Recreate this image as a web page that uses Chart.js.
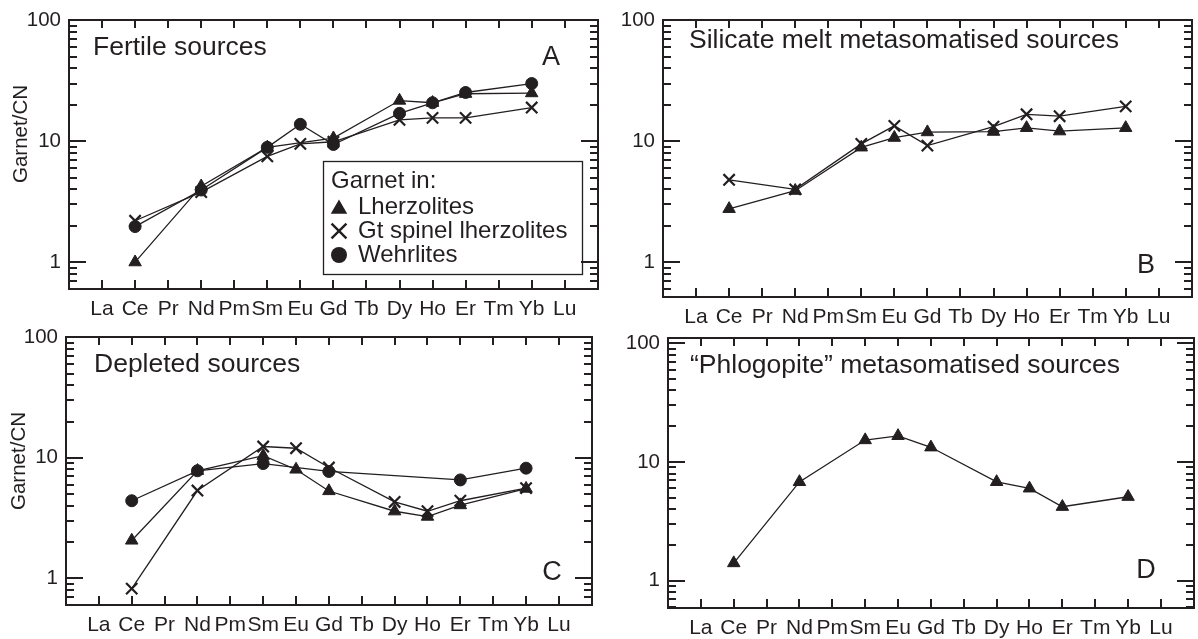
<!DOCTYPE html>
<html>
<head>
<meta charset="utf-8">
<script src="https://cdn.jsdelivr.net/npm/chart.js@4.4.0/dist/chart.umd.min.js"></script>
<style>
html, body { margin: 0; padding: 0; background: #fff; }
#wrap { position: relative; width: 1198px; height: 639px; overflow: hidden; }
#wrap canvas { position: absolute; }
</style>
</head>
<body>
<div id="wrap"></div>
<script>
/* ===== Datos ===== */
const elements = ['La','Ce','Pr','Nd','Pm','Sm','Eu','Gd','Tb','Dy','Ho','Er','Tm','Yb','Lu'];
const yTickVals = [1, 10, 100];

// A - Fertile sources
const lherzA  = [null, 1.0,  null, 4.25, null, 8.9,  null, 10.6, null, 21.7, 20.8, 24.7, null, 25.0, null];
const spinelA = [null, 2.2,  null, 3.8,  null, 7.5,  9.5,  9.9,  null, 15.0, 15.6, 15.6, null, 19.0, null];
const wehrA   = [null, 1.97, null, 3.95, null, 8.9,  13.8, 9.4,  null, 17.0, 20.8, 25.3, null, 30.0, null];

// B - Silicate melt metasomatised sources
const lherzB  = [null, 2.76, null, 3.9,  null, 8.9,  10.7, 11.9, null, 12.0, 12.9, 12.1, null, 12.9, null];
const spinelB = [null, 4.8,  null, 4.0,  null, 9.5,  13.4, 9.2,  null, 13.2, 16.7, 16.1, null, 19.4, null];

// C - Depleted sources
const lherzC  = [null, 2.06, null, 7.8,  null, 10.4, 8.0,  5.3,  null, 3.6,  3.25, 4.05, null, 5.55, null];
const spinelC = [null, 0.82, null, 5.35, null, 12.4, 12.0, 8.3,  null, 4.3,  3.6,  4.4,  null, 5.6,  null];
const wehrC   = [null, 4.4,  null, 7.8,  null, 8.95, null, 7.7,  null, null, null, 6.55, null, 8.2,  null];

// D - "Phlogopite" metasomatised sources
const lherzD  = [null, 1.41, null, 6.8,  null, 15.3, 16.6, 13.3, null, 6.8,  6.0,  4.2,  null, 5.1,  null];

/* ===== Estilo ===== */
const ink = '#231f20';
const FONT = "'Liberation Sans', Arial, Helvetica, sans-serif";
Chart.defaults.font.family = FONT;
Chart.defaults.color = ink;

const styles = {
  Lherzolites:             { pointStyle: 'triangle', pointRadius: 7.2, pointBorderWidth: 1, legendR: 9.5 },
  'Gt spinel lherzolites': { pointStyle: 'crossRot', pointRadius: 8,   pointBorderWidth: 2.2, legendR: 10.5 },
  Wehrlites:               { pointStyle: 'circle',   pointRadius: 6,   pointBorderWidth: 1, legendR: 8 }
};

const toPts = arr => arr.map((v, i) => v == null ? null : { x: i, y: v }).filter(Boolean);

function series(label, arr){
  const s = styles[label];
  return {
    label, data: toPts(arr),
    borderColor: ink, borderWidth: 1.3, tension: 0, fill: false,
    pointStyle: s.pointStyle, pointRadius: s.pointRadius, pointHoverRadius: s.pointRadius,
    pointBorderWidth: s.pointBorderWidth,
    pointBackgroundColor: ink, pointBorderColor: ink
  };
}

function drawMarker(ctx, style, x, y, r){
  ctx.save();
  ctx.fillStyle = ink; ctx.strokeStyle = ink;
  ctx.beginPath();
  if (style === 'triangle'){
    ctx.moveTo(x, y - r);
    ctx.lineTo(x + 0.866 * r, y + 0.5 * r);
    ctx.lineTo(x - 0.866 * r, y + 0.5 * r);
    ctx.closePath(); ctx.fill();
  } else if (style === 'circle'){
    ctx.arc(x, y, r, 0, Math.PI * 2); ctx.fill();
  } else {
    const d = r * 0.707;
    ctx.lineWidth = 2.4;
    ctx.moveTo(x - d, y - d); ctx.lineTo(x + d, y + d);
    ctx.moveTo(x + d, y - d); ctx.lineTo(x - d, y + d);
    ctx.stroke();
  }
  ctx.restore();
}

/* ===== Marco, ticks internos y textos ===== */
const panelDeco = {
  id: 'panelDeco',
  afterDraw(chart, args, o){
    const { ctx, chartArea: ca, scales } = chart;
    const ys = scales.y, xs = scales.x;
    const L = Math.round(ca.left), R = Math.round(ca.right);
    const T = Math.round(ca.top), B = Math.round(ca.bottom);
    const ox = o.ox, oy = o.oy;
    ctx.save();
    ctx.fillStyle = ink;
    // x ticks arriba y abajo
    for (let i = 0; i < elements.length; i++){
      const px = Math.round(xs.getPixelForValue(i));
      ctx.fillRect(px - 1, B - 9, 2, 9);
      ctx.fillRect(px - 1, T, 2, 8);
    }
    // y ticks (mayores y menores) a ambos lados
    [0.1, 1, 10, 100].forEach(dec => {
      for (let m = 1; m <= 9; m++){
        const v = m * dec;
        if (v < ys.min * 1.001 || v > ys.max * 1.001) continue;
        const py = Math.round(ys.getPixelForValue(v));
        const len = m === 1 ? 17 : 8;
        ctx.fillRect(L, py - 1, len, 2);
        ctx.fillRect(R - len, py - 1, len, 2);
      }
    });
    // marco
    ctx.fillRect(L - 1, T - 1, R - L + 2, 2);
    ctx.fillRect(L - 1, B - 1, R - L + 2, 2);
    ctx.fillRect(L - 1, T - 1, 2, B - T + 2);
    ctx.fillRect(R - 1, T - 1, 2, B - T + 2);

    ctx.textBaseline = 'alphabetic';
    // titulo del panel
    ctx.font = `26.5px ${FONT}`;
    ctx.textAlign = 'left';
    ctx.fillText(o.title.text, o.title.x - ox, o.title.y - oy);
    // letra
    ctx.font = `27px ${FONT}`;
    ctx.textAlign = 'center';
    ctx.fillText(o.letter.text, o.letter.x - ox, o.letter.y - oy);
    // eje y
    if (o.yTitle){
      ctx.save();
      ctx.translate(o.yTitle.x - ox, o.yTitle.y - oy);
      ctx.rotate(-Math.PI / 2);
      ctx.font = `20.5px ${FONT}`;
      ctx.textAlign = 'center';
      ctx.textBaseline = 'middle';
      ctx.fillText('Garnet/CN', 0, 0);
      ctx.restore();
    }
    // leyenda
    if (o.legend){
      const Lg = o.legend;
      ctx.lineWidth = 1.3;
      ctx.strokeStyle = ink;
      ctx.strokeRect(Lg.x - ox + 0.5, Lg.y - oy + 0.5, Lg.w, Lg.h);
      ctx.font = `24px ${FONT}`;
      ctx.textAlign = 'left';
      ctx.textBaseline = 'middle';
      ctx.fillText('Garnet in:', Lg.x + 8 - ox, Lg.y + 20 - oy);
      chart.data.datasets.forEach((ds, i) => {
        const cy = Lg.y + 46 + i * 24 - oy;
        drawMarker(ctx, ds.pointStyle, Lg.x + 16 - ox, cy + (ds.pointStyle === 'triangle' ? 2 : 0), styles[ds.label].legendR);
        ctx.fillText(ds.label, Lg.x + 35 - ox, cy);
      });
    }
    ctx.restore();
  }
};

/* ===== Paneles ===== */
const wrap = document.getElementById('wrap');

function makePanel(p){
  const padTop = 13, padRight = 2, xh = 40, slack = 3; // chart.js resta ~3px a la derecha
  const left = p.box.l - p.yw;
  const top = p.box.t - padTop;
  const width = p.box.r + padRight + slack - left;
  const height = p.box.b + xh - top;
  const cv = document.createElement('canvas');
  cv.width = width; cv.height = height;
  cv.style.left = left + 'px'; cv.style.top = top + 'px';
  cv.style.width = width + 'px'; cv.style.height = height + 'px';
  wrap.appendChild(cv);

  return new Chart(cv, {
    type: 'line',
    data: { datasets: p.datasets },
    options: {
      responsive: false, animation: false, devicePixelRatio: 1,
      layout: { padding: { left: 0, top: padTop, right: padRight, bottom: 0 } },
      plugins: {
        legend: { display: false }, tooltip: { enabled: false },
        panelDeco: { ox: left, oy: top, title: p.title, letter: p.letter, yTitle: p.yTitle, legend: p.legend }
      },
      scales: {
        x: {
          type: 'linear', min: -1, max: 15,
          afterBuildTicks: s => { s.ticks = elements.map((e, i) => ({ value: i })); },
          afterFit: s => { s.height = xh; },
          ticks: { callback: v => elements[v] ?? '', autoSkip: false, maxRotation: 0, font: { size: 21 }, padding: 8, color: ink },
          grid: { display: false, drawTicks: false }, border: { display: false }
        },
        y: {
          type: 'logarithmic', min: p.yMin, max: p.yMax,
          afterBuildTicks: s => { s.ticks = yTickVals.map(v => ({ value: v })); },
          afterFit: s => { s.width = p.yw; },
          ticks: { callback: v => String(v), font: { size: 20.5 }, padding: 8, color: ink },
          grid: { display: false, drawTicks: false }, border: { display: false }
        }
      }
    },
    plugins: [panelDeco]
  });
}

makePanel({
  box: { l: 69, t: 13, r: 603, b: 289 }, yw: 69, yMin: 0.6, yMax: 100,
  datasets: [series('Lherzolites', lherzA), series('Gt spinel lherzolites', spinelA), series('Wehrlites', wehrA)],
  title: { text: 'Fertile sources', x: 93, y: 55 },
  letter: { text: 'A', x: 551, y: 65 },
  yTitle: { x: 21, y: 134 },
  legend: { x: 323, y: 161, w: 259, h: 113 }
});

makePanel({
  box: { l: 663, t: 13, r: 1197, b: 297 }, yw: 57, yMin: 0.515, yMax: 100,
  datasets: [series('Lherzolites', lherzB), series('Gt spinel lherzolites', spinelB)],
  title: { text: 'Silicate melt metasomatised sources', x: 689, y: 48 },
  letter: { text: 'B', x: 1146, y: 273 }
});

makePanel({
  box: { l: 66, t: 330, r: 597, b: 605 }, yw: 66, yMin: 0.6, yMax: 100,
  datasets: [series('Lherzolites', lherzC), series('Gt spinel lherzolites', spinelC), series('Wehrlites', wehrC)],
  title: { text: 'Depleted sources', x: 94, y: 372 },
  letter: { text: 'C', x: 552, y: 580 },
  yTitle: { x: 19, y: 461 }
});

makePanel({
  box: { l: 668, t: 331, r: 1197, b: 608 }, yw: 59, yMin: 0.59, yMax: 110,
  datasets: [series('Lherzolites', lherzD)],
  title: { text: '\u201CPhlogopite\u201D metasomatised sources', x: 690, y: 373 },
  letter: { text: 'D', x: 1146, y: 578 }
});
</script>
</body>
</html>
